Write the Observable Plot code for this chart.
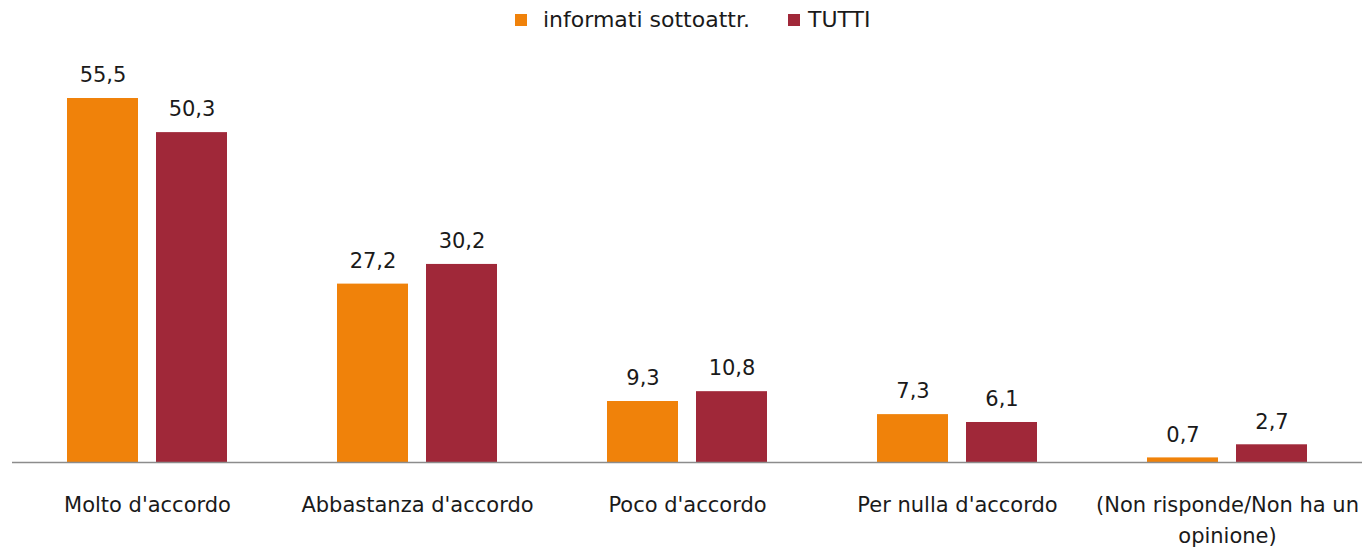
<!DOCTYPE html>
<html>
<head>
<meta charset="utf-8">
<script src="https://cdn.jsdelivr.net/npm/d3@7"></script>
<script src="https://cdn.jsdelivr.net/npm/@observablehq/plot@0.6"></script>
<style>
  html, body { margin: 0; padding: 0; background: #fff; }
  body { width: 1366px; height: 549px; overflow: hidden; font-family: "DejaVu Sans", sans-serif; color: #1a1a1a; }
  #legend { position: relative; height: 40px; }
  .item { position: absolute; top: 7px; display: flex; align-items: center; font-size: 22px; white-space: nowrap; }
  .sw { width: 12px; height: 12px; display: inline-block; margin-right: 16px; }
</style>
</head>
<body>
<div id="legend"></div>
<div id="chart"></div>
<script>
const categories = ["Molto d'accordo", "Abbastanza d'accordo", "Poco d'accordo", "Per nulla d'accordo", "(Non risponde/Non ha un opinione)"];
const tickLabels = ["Molto d'accordo", "Abbastanza d'accordo", "Poco d'accordo", "Per nulla d'accordo", "(Non risponde/Non ha un\nopinione)"];
const seriesNames = ["informati sottoattr.", "TUTTI"];
const informati = [55.5, 27.2, 9.3, 7.3, 0.7];
const tutti = [50.3, 30.2, 10.8, 6.1, 2.7];
const colors = ["#F0820A", "#A02839"];

const data = [];
categories.forEach((c, i) => {
  data.push({category: c, series: seriesNames[0], value: informati[i]});
  data.push({category: c, series: seriesNames[1], value: tutti[i]});
});

// legend
const legend = document.getElementById("legend");
const legendLeft = [515, 788];
seriesNames.forEach((s, i) => {
  const it = document.createElement("div");
  it.className = "item";
  it.style.left = legendLeft[i] + "px";
  const sw = document.createElement("span");
  sw.className = "sw";
  sw.style.background = colors[i];
  if (i === 1) sw.style.marginRight = "8px";
  it.appendChild(sw);
  it.appendChild(document.createTextNode(s));
  legend.appendChild(it);
});

const fmt = v => v.toFixed(1).replace(".", ",");

const chart = Plot.plot({
  width: 1366,
  height: 509,
  marginTop: 28.5,
  marginBottom: 87,
  marginLeft: 11,
  marginRight: 3,
  style: {fontFamily: "'DejaVu Sans', sans-serif", fontSize: "21px", color: "#1a1a1a", background: "#fff"},
  fx: {domain: categories, padding: 0, label: null},
  x: {domain: seriesNames, paddingInner: 0.2, paddingOuter: 0.603, axis: null},
  y: {domain: [0, 60], axis: null},
  color: {domain: seriesNames, range: colors},
  marks: [
    Plot.barY(data, {fx: "category", x: "series", y: "value", fill: "series"}),
    Plot.text(data, {fx: "category", x: "series", y: "value", text: d => fmt(d.value), dy: -23, fontSize: 21, fill: "#1a1a1a"}),
    Plot.ruleY([0], {stroke: "#8c8c8c", strokeWidth: 1.5}),
    Plot.axisFx({anchor: "bottom", tickSize: 0, tickPadding: 27, fontSize: 21, lineHeight: 1.5, label: null,
      tickFormat: d => tickLabels[categories.indexOf(d)]})
  ]
});
document.getElementById("chart").appendChild(chart);
</script>
</body>
</html>
